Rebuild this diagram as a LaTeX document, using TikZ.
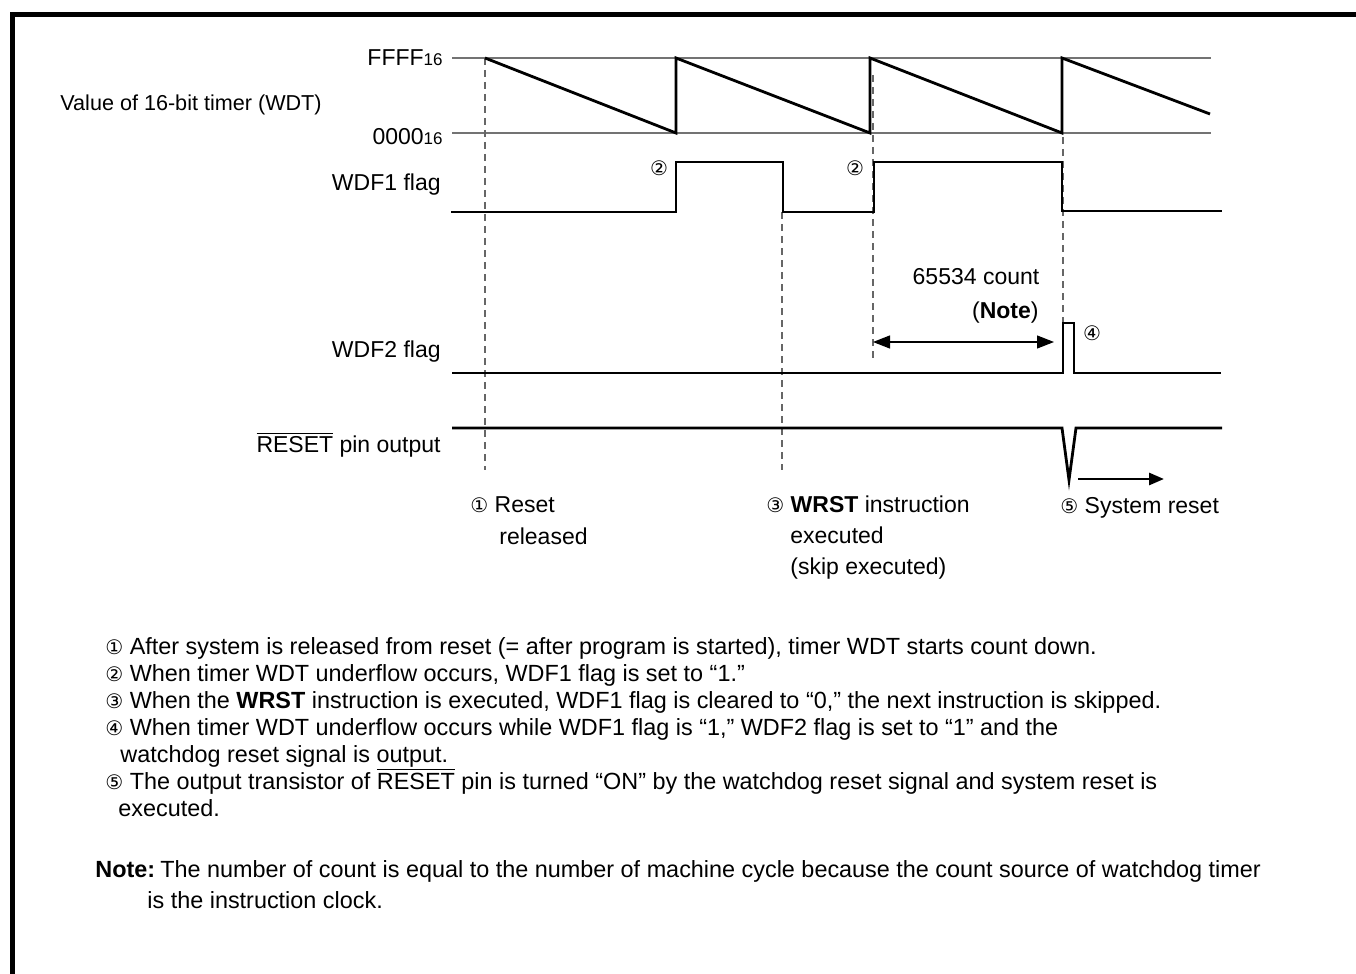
\documentclass[tikz,border=0pt]{standalone}
\usepackage{fontspec}
\setmainfont{Liberation Sans}
\newfontfamily\dejavu{DejaVu Sans}
\usetikzlibrary{arrows.meta}
\newcommand{\cnum}[1]{{\dejavu\fontsize{10}{10}\selectfont #1}}
\newcommand{\sixteen}{{\fontsize{8.5}{9}\selectfont 16}}
\newcommand{\rst}{$\overline{\mbox{RESET}}$}
\tikzset{
  txt/.style={inner sep=0pt, font=\fontsize{11.5}{13}\selectfont},
  body/.style={inner sep=0pt, font=\fontsize{11.7}{13}\selectfont},
  wave/.style={line width=1.4pt, line join=miter},
  refline/.style={line width=0.75pt, draw=black!55},
  guide/.style={line width=0.65pt, draw=black!60, dash pattern=on 3.5pt off 2.5pt},
  border/.style={line width=2.6pt},
}
\begin{document}
\begin{tikzpicture}[x=0.5pt,y=-0.5pt]
\useasboundingbox (0,0) rectangle (1356,974);
% border (frame cut at right and bottom)
\draw[border] (12.5,1000) -- (12.5,14.5) -- (1400,14.5);

% reference lines of timer
\coordinate (ffL) at (452,58); \coordinate (ffR) at (1211,58);
\coordinate (zzL) at (452,133); \coordinate (zzR) at (1211,133);
\draw[refline] (ffL) -- (ffR);
\draw[refline] (zzL) -- (zzR);

% guide dashed lines
\draw[guide] (485,58) -- (485,470);
\draw[guide] (782,212) -- (782,470);
\draw[guide] (873,75) -- (873,362);
\draw[guide] (1063,137) -- (1063,322);

% sawtooth
\draw[wave] (485,58) -- (676,133) -- (676,58) -- (870,133) -- (870,58) -- (1062,133) -- (1062,58) -- (1210,114);

% WDF1
\draw[wave] (451,212) -- (676,212) -- (676,162) -- (783,162) -- (783,212) -- (874,212) -- (874,162) -- (1062,162) -- (1062,211) -- (1222,211);

% WDF2
\draw[wave] (452,373) -- (1063,373) -- (1063,323) -- (1074,323) -- (1074,373) -- (1221,373);

% RESET
\draw[wave] (452,428) -- (1062,428) -- (1069,480) -- (1076,428) -- (1222,428);

% count arrow
\coordinate (ca1) at (873,342); \coordinate (ca2) at (1054,342);
\draw[line width=0.6pt, {Triangle[length=8.5pt,width=6.5pt]}-{Triangle[length=8.5pt,width=6.5pt]}] (ca1) -- (ca2);

% system reset arrow
\coordinate (sr1) at (1078,479); \coordinate (sr2) at (1164,479);
\draw[line width=1.4pt, -{Triangle[length=7.5pt,width=6pt]}] (sr1) -- (sr2);

% left labels
\node[txt, anchor=base east] (lff) at (443,66) {FFFF\sixteen};
\node[txt, anchor=base east] (lzz) at (443,145) {0000\sixteen};
\node[txt, anchor=base west, font=\fontsize{10.8}{13}\selectfont] (lval) at (60,111) {Value of 16-bit timer (WDT)};
\node[txt, anchor=base east] (lw1) at (441,191) {WDF1 flag};
\node[txt, anchor=base east] (lw2) at (441,357) {WDF2 flag};
\node[txt, anchor=base east] (lrs) at (441,452) {\rst\ pin output};

% markers
\node[txt] (m2a) at (659,168) {\cnum{②}};
\node[txt] (m2b) at (855,168) {\cnum{②}};
\node[txt] (m4) at (1092,333) {\cnum{④}};
\node[txt, anchor=base] (cnt) at (976,285) {65534 count};
\node[txt, anchor=base east] (nt) at (1039,318) {(\textbf{Note})};

% event labels
\node[txt, anchor=base west] (e1a) at (470,512) {\cnum{①} Reset};
\node[txt, anchor=base west] (e1b) at (499,544) {released};
\node[txt, anchor=base west] (e3a) at (766,512) {\cnum{③} \textbf{WRST} instruction};
\node[txt, anchor=base west] (e3b) at (790,543) {executed};
\node[txt, anchor=base west] (e3c) at (790,574) {(skip executed)};
\node[txt, anchor=base west] (e5) at (1060,513) {\cnum{⑤} System reset};

% explanatory text
\node[body, anchor=base west] (t1) at (105,654) {\cnum{①} After system is released from reset (= after program is started), timer WDT starts count down.};
\node[body, anchor=base west] (t2) at (105,681) {\cnum{②} When timer WDT underflow occurs, WDF1 flag is set to “1.”};
\node[body, anchor=base west] (t3) at (105,708) {\cnum{③} When the \textbf{WRST} instruction is executed, WDF1 flag is cleared to “0,” the next instruction is skipped.};
\node[body, anchor=base west] (t4) at (105,735) {\cnum{④} When timer WDT underflow occurs while WDF1 flag is “1,” WDF2 flag is set to “1” and the};
\node[body, anchor=base west] (t4b) at (120,762) {watchdog reset signal is output.};
\node[body, anchor=base west] (t5) at (105,789) {\cnum{⑤} The output transistor of \rst\ pin is turned “ON” by the watchdog reset signal and system reset is};
\node[body, anchor=base west] (t5b) at (118,816) {executed.};
\node[body, anchor=base west] (tn) at (95,877) {\textbf{Note:}\hspace{0.22em}The number of count is equal to the number of machine cycle because the count source of watchdog timer};
\node[body, anchor=base west] (tnb) at (147,908) {is the instruction clock.};
\end{tikzpicture}
\end{document}
